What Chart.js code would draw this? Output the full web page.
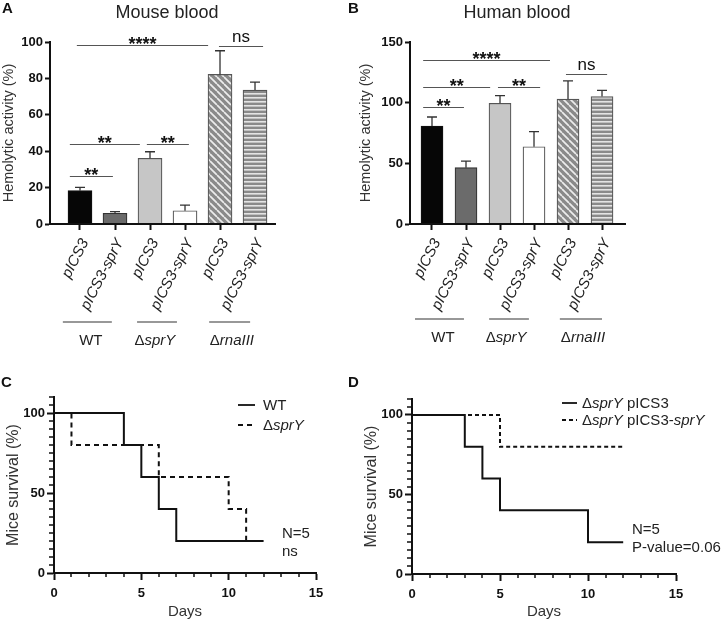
<!DOCTYPE html>
<html>
<head>
<meta charset="utf-8">
<script src="https://cdn.jsdelivr.net/npm/chart.js@4.4.1/dist/chart.umd.min.js"></script>
<style>
body { margin: 0; background: #fff; }
#wrap { position: relative; width: 723px; height: 625px; overflow: hidden; }
#wrap canvas { position: absolute; }
</style>
</head>
<body>
<div id="wrap">
  <canvas id="cA" width="345" height="370" style="left:0;top:0"></canvas>
  <canvas id="cB" width="378" height="370" style="left:345px;top:0"></canvas>
  <canvas id="cC" width="345" height="255" style="left:0;top:370px"></canvas>
  <canvas id="cD" width="378" height="255" style="left:345px;top:370px"></canvas>
</div>
<script>
var FONT = '"Liberation Sans", Arial, Helvetica, sans-serif';
Chart.defaults.font.family = FONT;
Chart.defaults.color = '#222';

// ---- data ----
var barLabels = ['pICS3', 'pICS3-sprY', 'pICS3', 'pICS3-sprY', 'pICS3', 'pICS3-sprY'];
var strains = ['WT', 'ΔsprY', 'ΔrnaIII'];

var mouseMean = [18.3, 5.9, 36.1, 7.3, 82.2, 73.6];
var mouseSD = [1.8, 0.9, 3.6, 3.1, 13.0, 4.3];
var mouseSig = ['**', '**', '**', '****', 'ns'];

var humanMean = [80.8, 46.4, 99.5, 63.7, 103.0, 105.0];
var humanSD = [7.4, 5.5, 6.3, 12.4, 14.9, 5.2];
var humanSig = ['**', '**', '**', '****', 'ns'];

var daysWT = [0, 4, 5, 6, 7, 12];
var survWT = [100, 80, 60, 40, 20, 20];
var daysSprY = [0, 1, 6, 10, 11];
var survSprY = [100, 80, 60, 40, 20];

var daysVec = [0, 3, 4, 5, 10, 12];
var survVec = [100, 80, 60, 40, 20, 20];
var daysComp = [0, 5, 12];
var survComp = [100, 80, 80];

// ---- helpers ----
// italic for gene names inside a label
function richText(ctx, str, x, y, size, align, allItalic) {
	var parts = str.split(/(sprY|rnaIII)/).filter(function (s) { return s.length; });
	var fonts = parts.map(function (p) {
		var it = allItalic || p === 'sprY' || p === 'rnaIII';
		return (it ? 'italic ' : '') + size + 'px ' + FONT;
	});
	var widths = parts.map(function (p, i) { ctx.font = fonts[i]; return ctx.measureText(p).width; });
	var total = widths.reduce(function (a, b) { return a + b; }, 0);
	var cx = align === 'center' ? x - total / 2 : x;
	ctx.textAlign = 'left';
	parts.forEach(function (p, i) {
		ctx.font = fonts[i];
		ctx.fillText(p, cx, y);
		cx += widths[i];
	});
}

function makePattern(kind) {
	var c = document.createElement('canvas');
	var g = c.getContext('2d');
	if (kind === 'diag') {
		c.width = 7; c.height = 7;
		g.fillStyle = '#8a8a8a';
		g.fillRect(0, 0, 7, 7);
		g.strokeStyle = '#ececec';
		g.lineWidth = 1.7;
		g.beginPath();
		for (var k = -1; k <= 1; k++) { g.moveTo(k * 7, 0); g.lineTo(k * 7 + 7, 7); }
		g.stroke();
	} else {
		c.width = 4; c.height = 4;
		g.fillStyle = '#8a8a8a';
		g.fillRect(0, 0, 4, 4);
		g.fillStyle = '#e4e4e4';
		g.fillRect(0, 1, 4, 1.6);
	}
	return g.createPattern(c, 'repeat');
}

var barFills = ['#060606', '#6b6b6b', '#c6c6c6', '#ffffff', makePattern('diag'), makePattern('horiz')];
var barBorders = ['#111', '#333', '#555', '#555', '#555', '#555'];

function barPanel(id, means, sds, sigText, opt) {
	var extras = {
		id: 'extras',
		afterDraw: function (chart) {
			var ctx = chart.ctx, xs = chart.scales.x, ys = chart.scales.y;
			var base = ys.getPixelForValue(0);
			ctx.save();
			// error bars (upper only)
			ctx.strokeStyle = '#333';
			ctx.lineWidth = 1.3;
			means.forEach(function (m, i) {
				var x = xs.getPixelForValue(i);
				var y0 = ys.getPixelForValue(m), y1 = ys.getPixelForValue(m + sds[i]);
				ctx.beginPath();
				ctx.moveTo(x, y0); ctx.lineTo(x, y1);
				ctx.moveTo(x - 5, y1); ctx.lineTo(x + 5, y1);
				ctx.stroke();
			});
			// significance bars
			sigText.forEach(function (t, i) {
				var a = xs.getPixelForValue(opt.sigSpan[i][0]);
				var b = xs.getPixelForValue(opt.sigSpan[i][1]);
				var y = Math.round(ys.getPixelForValue(opt.sigY[i])) + 0.5;
				ctx.strokeStyle = '#555';
				ctx.lineWidth = 1.2;
				ctx.beginPath(); ctx.moveTo(a, y); ctx.lineTo(b, y); ctx.stroke();
				ctx.fillStyle = '#111';
				ctx.textAlign = 'center';
				ctx.textBaseline = 'alphabetic';
				if (t === 'ns') {
					ctx.font = '17px ' + FONT;
					ctx.fillText(t, (a + b) / 2, y - 4.5);
				} else {
					ctx.font = 'bold 18px ' + FONT;
					ctx.fillText(t, (a + b) / 2, y + 4.5);
				}
			});
			// rotated bar labels
			ctx.fillStyle = '#222';
			ctx.font = 'italic 15px ' + FONT;
			ctx.textAlign = 'right';
			ctx.textBaseline = 'middle';
			barLabels.forEach(function (lab, i) {
				var x = xs.getPixelForValue(i);
				ctx.save();
				ctx.translate(x + 5, base + 16);
				ctx.rotate(-63 * Math.PI / 180);
				ctx.fillText(lab, 0, 0);
				ctx.restore();
			});
			// strain groups
			ctx.textBaseline = 'alphabetic';
			strains.forEach(function (s, i) {
				var a = xs.getPixelForValue(opt.groupSpan[i][0]);
				var b = xs.getPixelForValue(opt.groupSpan[i][1]);
				ctx.strokeStyle = '#333';
				ctx.lineWidth = 1.2;
				ctx.beginPath(); ctx.moveTo(a, base + opt.groupLine); ctx.lineTo(b, base + opt.groupLine); ctx.stroke();
				ctx.fillStyle = '#222';
				richText(ctx, s, xs.getPixelForValue(opt.groupMid[i]), base + opt.groupText, 15, 'center', false);
			});
			// panel letter and title
			ctx.fillStyle = '#111';
			ctx.font = 'bold 15px ' + FONT;
			ctx.textAlign = 'left';
			ctx.fillText(opt.letter, opt.letterX, 13);
			ctx.fillStyle = '#222';
			ctx.font = '18px ' + FONT;
			ctx.textAlign = 'center';
			ctx.fillText(opt.title, opt.titleX, 18);
			ctx.restore();
		}
	};

	return new Chart(document.getElementById(id), {
		type: 'bar',
		data: {
			datasets: [{
				data: means.map(function (v, i) { return { x: i, y: v }; }),
				backgroundColor: barFills,
				borderColor: barBorders,
				borderWidth: 1.2,
				barThickness: opt.barW
			}]
		},
		options: {
			responsive: false,
			animation: false,
			devicePixelRatio: 1,
			layout: { padding: { top: 42, right: opt.padRight, left: 0, bottom: 0 } },
			plugins: { legend: { display: false }, tooltip: { enabled: false } },
			scales: {
				x: {
					type: 'linear',
					offset: false,
					min: opt.xMin,
					max: opt.xMax,
					afterBuildTicks: function (s) { s.ticks = barLabels.map(function (l, i) { return { value: i }; }); },
					ticks: { display: false },
					grid: { offset: false, drawOnChartArea: false, tickLength: 6, tickWidth: 2, tickColor: '#111' },
					border: { color: '#111', width: 2, z: 1 },
					afterFit: function (s) { s.height = opt.h - 224; }
				},
				y: {
					min: 0,
					max: opt.yMax,
					ticks: { stepSize: opt.step, font: { size: 13, weight: 'bold' }, color: '#111', padding: 2 },
					grid: { drawOnChartArea: false, tickLength: 5, tickWidth: 2, tickColor: '#111' },
					border: { color: '#111', width: 2, z: 1 },
					title: { display: true, text: 'Hemolytic activity (%)', font: { size: 14.5 }, color: '#333', padding: { top: opt.titlePad, bottom: 0 } },
					afterFit: function (s) { s.width = opt.axisLeft; }
				}
			}
		},
		plugins: [extras]
	});
}

function kmPanel(id, sets, opt) {
	var extras = {
		id: 'kmExtras',
		afterDraw: function (chart) {
			var ctx = chart.ctx, xs = chart.scales.x, ys = chart.scales.y, area = chart.chartArea;
			ctx.save();
			// minor ticks
			ctx.strokeStyle = '#111';
			ctx.lineWidth = 1.5;
			ctx.beginPath();
			for (var d = 0; d <= 15; d++) {
				if (d % 5 === 0) continue;
				var x = Math.round(xs.getPixelForValue(d));
				ctx.moveTo(x, area.bottom); ctx.lineTo(x, area.bottom + 4);
			}
			for (var v = 0; v <= 110; v += 5) {
				if (v % 50 === 0) continue;
				var y = Math.round(ys.getPixelForValue(v));
				ctx.moveTo(area.left - 5, y); ctx.lineTo(area.left, y);
			}
			ctx.stroke();
			// legend
			ctx.textBaseline = 'alphabetic';
			sets.forEach(function (s, i) {
				var by = opt.legRows[i];
				ctx.strokeStyle = '#111';
				ctx.lineWidth = 1.8;
				ctx.setLineDash(s.dash);
				ctx.beginPath(); ctx.moveTo(opt.legX[0], by - 5); ctx.lineTo(opt.legX[1], by - 5); ctx.stroke();
				ctx.setLineDash([]);
				ctx.fillStyle = '#222';
				richText(ctx, s.label, opt.legX[2], by, 15, 'left', false);
			});
			// notes
			ctx.font = '15px ' + FONT;
			ctx.textAlign = 'left';
			opt.notes.forEach(function (n, i) { ctx.fillText(n, opt.noteX, opt.noteY[i]); });
			// panel letter
			ctx.fillStyle = '#111';
			ctx.font = 'bold 15px ' + FONT;
			ctx.fillText(opt.letter, opt.letterX, 17);
			ctx.restore();
		}
	};

	return new Chart(document.getElementById(id), {
		type: 'line',
		data: {
			datasets: sets.map(function (s) {
				return {
					label: s.label,
					data: s.days.map(function (d, i) { return { x: d, y: s.surv[i] }; }),
					stepped: true,
					borderColor: '#111',
					borderWidth: 2,
					borderDash: s.dash,
					pointRadius: 0,
					fill: false
				};
			})
		},
		options: {
			responsive: false,
			animation: false,
			devicePixelRatio: 1,
			layout: { padding: { top: opt.top, right: opt.padRight, left: 0, bottom: 0 } },
			plugins: { legend: { display: false }, tooltip: { enabled: false } },
			scales: {
				x: {
					type: 'linear',
					min: 0,
					max: 15,
					afterBuildTicks: function (s) { s.ticks = [0, 5, 10, 15].map(function (v) { return { value: v }; }); },
					ticks: { font: { size: 13, weight: 'bold' }, color: '#111', padding: 6, maxRotation: 0 },
					grid: { drawOnChartArea: false, tickLength: 7, tickWidth: 2, tickColor: '#111' },
					border: { color: '#111', width: 2, z: 1 },
					title: { display: true, text: 'Days', font: { size: 15 }, color: '#333', padding: { top: 0, bottom: 4 } },
					afterFit: function (s) { s.height = opt.xh; }
				},
				y: {
					min: 0,
					max: 110,
					afterBuildTicks: function (s) { s.ticks = [0, 50, 100].map(function (v) { return { value: v }; }); },
					ticks: { font: { size: 13, weight: 'bold' }, color: '#111', padding: 2 },
					grid: { drawOnChartArea: false, tickLength: 7, tickWidth: 2, tickColor: '#111' },
					border: { color: '#111', width: 2, z: 1 },
					title: { display: true, text: 'Mice survival (%)', font: { size: 16 }, color: '#333', padding: { top: opt.titlePad, bottom: 0 } },
					afterFit: function (s) { s.width = opt.axisLeft; }
				}
			}
		},
		plugins: [extras]
	});
}

barPanel('cA', mouseMean, mouseSD, mouseSig, {
	h: 370, axisLeft: 50, padRight: 70, titlePad: 0, barW: 24,
	xMin: -0.857, xMax: 5.571, yMax: 100, step: 20,
	sigSpan: [[-0.29, 0.94], [-0.29, 1.71], [1.91, 3.11], [-0.09, 3.66], [3.97, 5.23]],
	sigY: [26.4, 43.8, 43.8, 98.2, 98.0],
	groupSpan: [[-0.49, 0.91], [1.63, 2.77], [3.69, 4.86]],
	groupMid: [0.31, 2.14, 4.34],
	groupLine: 98, groupText: 121,
	letter: 'A', letterX: 2, title: 'Mouse blood', titleX: 167
});

barPanel('cB', humanMean, humanSD, humanSig, {
	h: 370, axisLeft: 65, padRight: 98, titlePad: 12, barW: 22,
	xMin: -0.647, xMax: 5.676, yMax: 150, step: 50,
	sigSpan: [[-0.26, 0.94], [-0.26, 1.71], [1.94, 3.18], [-0.26, 3.47], [3.94, 5.15]],
	sigY: [96.7, 112.6, 112.6, 134.9, 123.6],
	groupSpan: [[-0.5, 0.94], [1.68, 2.85], [3.76, 5.0]],
	groupMid: [0.32, 2.18, 4.44],
	groupLine: 95, groupText: 118,
	letter: 'B', letterX: 3, title: 'Human blood', titleX: 172
});

kmPanel('cC', [
	{ label: 'WT', days: daysWT, surv: survWT, dash: [] },
	{ label: 'ΔsprY', days: daysSprY, surv: survSprY, dash: [5, 4] }
], {
	top: 27, padRight: 29, xh: 52, axisLeft: 54, titlePad: 4,
	legX: [238, 255, 263], legRows: [40, 60],
	notes: ['N=5', 'ns'], noteX: 282, noteY: [168, 186],
	letter: 'C', letterX: 1
});

kmPanel('cD', [
	{ label: 'ΔsprY pICS3', days: daysVec, surv: survVec, dash: [] },
	{ label: 'ΔsprY pICS3-sprY', days: daysComp, surv: survComp, dash: [4, 3] }
], {
	top: 29, padRight: 47, xh: 51, axisLeft: 67, titlePad: 17,
	legX: [217, 232, 237], legRows: [38, 55],
	notes: ['N=5', 'P-value=0.06'], noteX: 287, noteY: [164, 182],
	letter: 'D', letterX: 3
});
</script>
</body>
</html>
